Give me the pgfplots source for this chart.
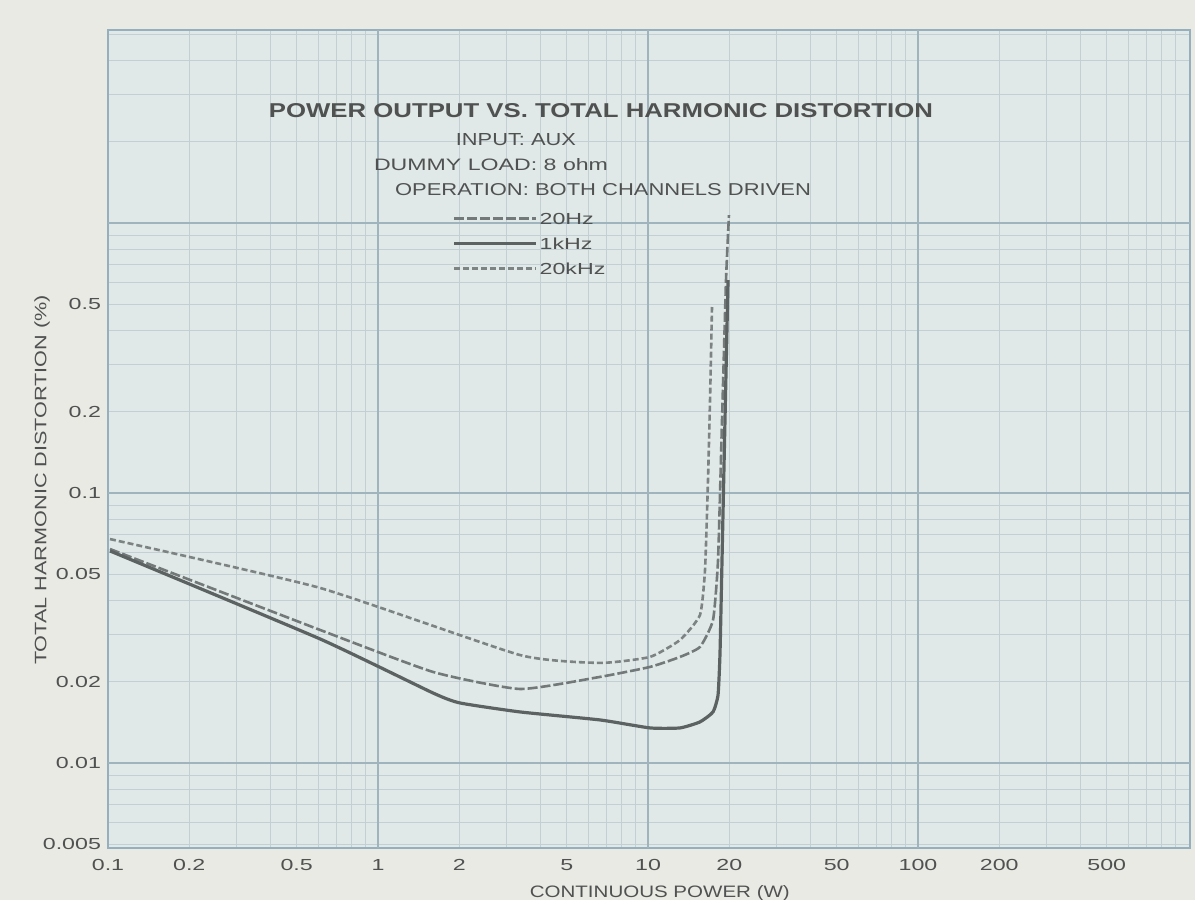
\documentclass[border=0pt]{standalone}
\usepackage{fontspec}
\setmainfont{Liberation Sans}
\usepackage{pgfplots}
\usepackage{pgfplotstable}
\pgfplotsset{compat=1.18}
\definecolor{paper}{RGB}{233,234,227}
\definecolor{plotbg}{RGB}{224,233,231}
\definecolor{frame}{RGB}{150,175,188}
\definecolor{gridmaj}{RGB}{160,180,190}
\definecolor{gridmin}{RGB}{194,208,212}
\definecolor{txt}{RGB}{80,82,82}
\definecolor{crvA}{RGB}{125,130,130}
\definecolor{crvB}{RGB}{115,121,121}
\definecolor{crvC}{RGB}{92,98,98}
\newcommand\wide[1]{\scalebox{1.45}[1]{#1}}

% 20 kHz (upper curve)
\pgfplotstableread{
P T
0.1017 0.0675
0.6099 0.0445
3.357 0.0251
6.640 0.02347
10.17 0.0247
13.14 0.02855
15.58 0.03533
16.26 0.0519
16.68 0.1117
16.97 0.2210
17.26 0.4886
}\curveA

% 20 Hz (middle curve)
\pgfplotstableread{
P T
0.1017 0.0620
0.6099 0.0311
1.599 0.02173
3.357 0.01879
6.640 0.02083
10.17 0.02268
13.14 0.0247
15.58 0.02690
17.41 0.03386
18.17 0.0565
18.80 0.1864
19.45 0.6150
19.95 1.070
}\curveB

% 1 kHz (lower curve)
\pgfplotstableread{
P T
0.1017 0.0610
0.6099 0.0288
1.599 0.01816
2.012 0.01668
3.357 0.01545
6.640 0.01443
10.17 0.01348
13.14 0.01348
15.58 0.01419
17.41 0.01545
18.17 0.01786
18.48 0.02555
18.80 0.0565
19.28 0.1864
19.79 0.6150
}\curveC

\begin{document}
\begin{tikzpicture}
\path[use as bounding box, fill=paper] (0pt,0pt) rectangle (597.5pt,450pt);
\begin{axis}[
  at={(54pt,26pt)}, anchor=south west, scale only axis,
  width=541pt, height=409pt,
  xmode=log, ymode=log,
  xmin=0.1, xmax=1017, ymin=0.00484, ymax=5.19,
  axis background/.style={fill=plotbg},
  axis line style={draw=frame, line width=1.2pt},
  grid=both,
  major grid style={draw=gridmin, line width=0.5pt},
  minor grid style={draw=gridmin, line width=0.5pt},
  major tick length=0pt, minor tick length=0pt,
  xtick={0.1,0.2,0.5,1,2,5,10,20,50,100,200,500},
  xticklabels={\wide{0.1},\wide{0.2},\wide{0.5},\wide{1},\wide{2},\wide{5},\wide{10},\wide{20},\wide{50},\wide{100},\wide{200},\wide{500}},
  minor xtick={0.3,0.4,0.6,0.7,0.8,0.9,3,4,6,7,8,9,30,40,60,70,80,90,300,400,600,700,800,900},
  ytick={0.005,0.01,0.02,0.05,0.1,0.2,0.5},
  yticklabels={\wide{0.005},\wide{0.01},\wide{0.02},\wide{0.05},\wide{0.1},\wide{0.2},\wide{0.5}},
  minor ytick={0.006,0.007,0.008,0.009,0.03,0.04,0.06,0.07,0.08,0.09,0.3,0.4,0.6,0.7,0.8,0.9,1,2,3,4,5},
  extra x ticks={1,10,100},
  extra x tick labels={},
  extra x tick style={major grid style={draw=gridmaj, line width=0.9pt}},
  extra y ticks={0.01,0.1,1},
  extra y tick labels={},
  extra y tick style={major grid style={draw=gridmaj, line width=0.9pt}},
  ticklabel style={font=\fontsize{8}{9}\selectfont, text=txt},
  xticklabel style={yshift=-2pt},
  legend style={draw=none, fill=none, at={(axis description cs:0.318,0.780)}, anchor=north west,
    inner sep=0pt, row sep=4.5pt, font=\fontsize{8}{9}\selectfont, text=txt,
    nodes={text height=6pt, text depth=0pt, inner sep=1pt}},
  legend cell align=left,
  legend image code/.code={\draw[#1] (0pt,0pt) -- (41pt,0pt);},
  clip=false,
]
\addplot[draw=crvB, line width=1.3pt, dash pattern=on 5pt off 1.5pt, smooth, tension=0.3] table[x=P,y=T] {\curveB};
\addlegendentry{\wide{20Hz}}
\addplot[draw=crvC, line width=1.6pt, smooth, tension=0.3] table[x=P,y=T] {\curveC};
\addlegendentry{\wide{1kHz}}
\addplot[draw=crvA, line width=1.3pt, dash pattern=on 3pt off 1.5pt, smooth, tension=0.3] table[x=P,y=T] {\curveA};
\addlegendentry{\wide{20kHz}}

\node[text=txt] at (axis description cs:0.4556,0.902) {\resizebox{332pt}{7pt}{\bfseries POWER OUTPUT VS. TOTAL HARMONIC DISTORTION}};
\node[text=txt] at (axis description cs:0.377,0.8655) {\resizebox{60pt}{6pt}{INPUT: AUX}};
\node[text=txt] at (axis description cs:0.354,0.835) {\resizebox{117pt}{6pt}{DUMMY LOAD: 8 ohm}};
\node[text=txt] at (axis description cs:0.4575,0.8044) {\resizebox{208pt}{6pt}{OPERATION: BOTH CHANNELS DRIVEN}};
\node[text=txt] at (axis description cs:0.51,-0.055) {\resizebox{130pt}{6pt}{CONTINUOUS POWER (W)}};
\node[text=txt, rotate=90] at (axis description cs:-0.061,0.45) {\resizebox{185pt}{6pt}{TOTAL HARMONIC DISTORTION (\%)}};
\end{axis}
\end{tikzpicture}
\end{document}
